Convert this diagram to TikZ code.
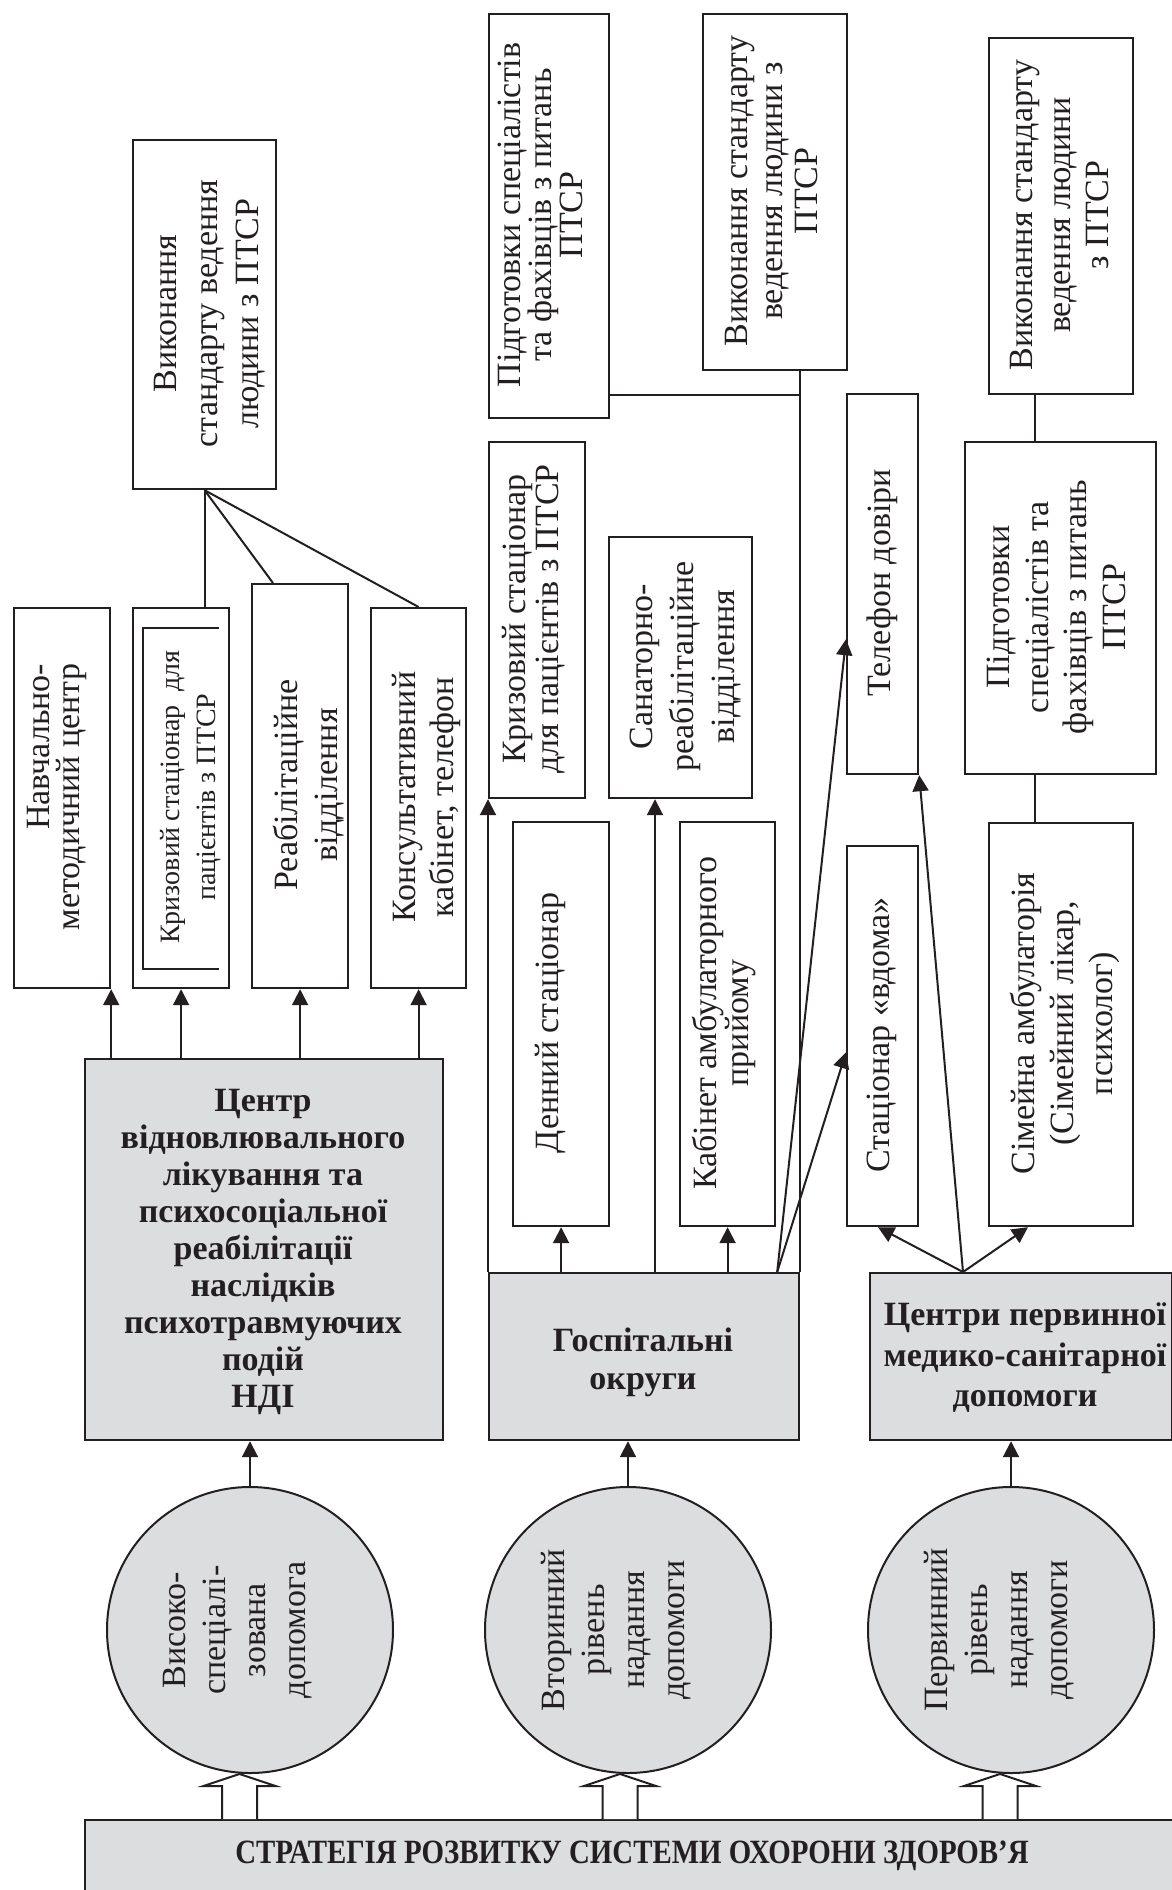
\documentclass[tikz,border=0pt]{standalone}
\usepackage{fontspec}
\setmainfont{Liberation Serif}
\usepackage{graphicx}
\usetikzlibrary{arrows.meta,calc}
\definecolor{ink}{RGB}{35,31,32}
\definecolor{boxgray}{RGB}{220,221,223}
\tikzset{
  box/.style={draw, line width=2.2pt, inner sep=0pt, anchor=north west},
  graybox/.style={box, fill=boxgray},
  link/.style={line width=2pt},
  arr/.style={link, -{Triangle[length=16pt,width=16pt]}},
  hollow/.style={line width=2pt, fill=white, line join=miter},
  vtxt/.style={rotate=90, anchor=north, inner sep=0pt, align=center,
    font=\fontsize{34}{#1}\selectfont},
  vtxt/.default=40,
  htxt/.style={anchor=north, inner sep=0pt, align=center,
    font=\bfseries\fontsize{34}{#1}\selectfont},
  circ/.style={circle, draw, line width=2pt, fill=boxgray,
    minimum size=286pt, inner sep=0pt},
}
\begin{document}
\begin{tikzpicture}[x=1pt,y=-1pt,color=ink]
\useasboundingbox (0,0) rectangle (1172,1890);
\fill[white] (0,0) rectangle (1172,1890);
\clip (0,0) rectangle (1172,1890);

% ---------- highly specialised care (left column)
\node[box, minimum width=143pt, minimum height=349pt] (V1) at (132,139) {};
\node[box, minimum width=96pt, minimum height=380pt] (N1) at (13,607) {};
\node[box, minimum width=96pt, minimum height=380pt] (K1) at (132,607) {};
\node[box, minimum width=96pt, minimum height=404pt] (R1) at (251,583) {};
\node[box, minimum width=95pt, minimum height=380pt] (C1) at (370,607) {};
\node[graybox, minimum width=358pt, minimum height=381pt] (Z1) at (84,1058) {};

\node[vtxt=41] at (154,313.5) {Виконання\\стандарту ведення\\людини з ПТСР};
\node[vtxt=30, align=right] at (27,797) {Навчально-\\методичний центр};
\draw[line width=2pt] ($(K1.north east)+(-11,21)$) -- ($(K1.north west)+(11,21)$)
  -- ($(K1.south west)+(11,-20)$) -- ($(K1.south east)+(-11,-20)$);
\node[vtxt, font=\fontsize{28}{36}\selectfont] at (160,797) {Кризовий стаціонар~ для\\пацієнтів з ПТСР};
\node[vtxt=40] at (273,785) {Реабілітаційне\\відділення};
\node[vtxt=38] at (392,797) {Консультативний\\кабінет, телефон};
\node[htxt=37] at (263,1089.5) {Центр\\відновлювального\\лікування та\\психосоціальної\\реабілітації\\наслідків\\психотравмуючих\\подій\\НДІ};

\draw[link] (V1.south) -- (V1.south |- K1.north);
\draw[link] (V1.south) -- ($(R1.north west)+(22,0)$);
\draw[link] (V1.south) -- (C1.north);
\draw[arr] (N1.south east |- Z1.north) -- (N1.south east);
\draw[arr] (K1.south |- Z1.north) -- (K1.south);
\draw[arr] (R1.south |- Z1.north) -- (R1.south);
\draw[arr] (C1.south |- Z1.north) -- (C1.south);

% ---------- secondary level (middle column)
\node[box, minimum width=120pt, minimum height=404pt] (P2) at (488,13) {};
\node[box, minimum width=144pt, minimum height=356pt] (V2) at (702,13) {};
\node[box, minimum width=96pt, minimum height=356pt] (K2) at (488,441) {};
\node[box, minimum width=143pt, minimum height=261pt] (S2) at (608,536) {};
\node[box, minimum width=96pt, minimum height=404pt] (D2) at (512,821) {};
\node[box, minimum width=95pt, minimum height=404pt] (KA2) at (679,821) {};
\node[box, minimum width=71pt, minimum height=380pt] (T2) at (846,393) {};
\node[box, minimum width=71pt, minimum height=380pt] (SV) at (846,845) {};
\node[graybox, minimum width=310pt, minimum height=167pt] (G2) at (488,1272) {};

\node[vtxt=26] at (498,215) {Підготовки спеціалістів\\та фахівців з питань\\ПТСР};
\node[vtxt=35] at (725,191) {Виконання стандарту\\ведення людини з\\ПТСР};
\node[vtxt=33] at (502,619) {Кризовий стаціонар\\для пацієнтів з ПТСР};
\node[vtxt=41] at (630,666.5) {Санаторно-\\реабілітаційне\\відділення};
\node[vtxt] at (535,1023) {Денний стаціонар};
\node[vtxt=32] at (692,1023) {Кабінет амбулаторного\\прийому};
\node[vtxt] at (867,583) {Телефон довіри};
\node[vtxt] at (867,1035) {Стаціонар «вдома»};
\node[htxt=38] at (643,1328) {Госпітальні\\округи};

\draw[arr] (G2.north west) -- (K2.south west);
\draw[arr] (D2.south |- G2.north) -- (D2.south);
\coordinate (s2a) at ($(S2.south west)+(47,0)$);
\draw[arr] (s2a |- G2.north) -- (s2a);
\draw[arr] (KA2.south |- G2.north) -- (KA2.south);
\coordinate (gA) at ($(G2.north east)+(-23,0)$);
\coordinate (t2in) at ($(T2.south west)+(0,-136)$);
\coordinate (svin) at ($(SV.south west)+(0,-175)$);
\draw[arr] (gA) -- (t2in);
\draw[arr] (gA) -- (svin);
\draw[link] (G2.north east) -- (G2.north east |- V2.south);
\coordinate (p2r) at ($(P2.south east)+(0,-24)$);
\draw[link] (p2r) -- (p2r -| G2.north east);

% ---------- primary level (right column)
\node[box, minimum width=144pt, minimum height=356pt] (V3) at (988,37) {};
\node[box, minimum width=191pt, minimum height=332pt] (P3) at (964,441) {};
\node[box, minimum width=144pt, minimum height=403pt] (SA) at (988,822) {};
\node[graybox, minimum width=302pt, minimum height=167pt] (CP) at (869,1272) {};

\node[vtxt=38] at (1010,215) {Виконання стандарту\\ведення людини\\з ПТСР};
\node[vtxt=38.5] at (987,607) {Підготовки\\спеціалістів та\\фахівців з питань\\ПТСР};
\node[vtxt=39] at (1010,1023.5) {Сімейна амбулаторія\\(Сімейний лікар,\\психолог)};
\node[htxt=40.5] at (1025,1303) {Центри первинної\\медико-санітарної\\допомоги};

\coordinate (cA) at ($(CP.north west)+(94,0)$);
\draw[arr] (cA) -- ($(SV.south west)+(32,0)$);
\draw[arr] (cA) -- ($(SA.south west)+(40,0)$);
\draw[arr] (cA) -- (T2.south east);
\coordinate (v3a) at ($(V3.south west)+(47,0)$);
\draw[link] (v3a) -- (v3a |- P3.north);
\draw[link] (v3a |- P3.south) -- (v3a |- SA.north);

% ---------- levels of care and the strategy strip
\node[graybox, minimum width=1200pt, minimum height=100pt] (S) at (84,1819) {};
\node[anchor=base, inner sep=0pt, font=\bfseries\fontsize{34}{40}\selectfont]
  at (632,1863) {\scalebox{0.85}[1]{СТРАТЕГІЯ РОЗВИТКУ СИСТЕМИ ОХОРОНИ ЗДОРОВ'Я}};

\node[circ] (O1) at (250,1630) {};
\node[circ] (O2) at (628,1630) {};
\node[circ] (O3) at (1011,1630) {};
\node[vtxt=40] at (163,1630) {Високо-\\спеціалі-\\зована\\допомога};
\node[vtxt=40] at (541,1630) {Вторинний\\рівень\\надання\\допомоги};
\node[vtxt=40] at (924,1630) {Первинний\\рівень\\надання\\допомоги};

\draw[arr] (O1.north) -- (O1.north |- Z1.south);
\draw[arr] (O2.north) -- (O2.north |- G2.south);
\draw[arr] (O3.north) -- (O3.north |- CP.south);

% hollow block arrows from the strip up to each level
\foreach \o/\dx in {O1/-10.5,O2/-8,O3/-11} {
  \coordinate (tip) at ($(\o.south)+(\dx,0)$);
  \draw[hollow] ($(tip |- S.north)+(-17.5,0)$) -- ($(tip)+(-17.5,12)$)
    -- ($(tip)+(-36,12)$) -- (tip) -- ($(tip)+(36,12)$)
    -- ($(tip)+(17.5,12)$) -- ($(tip |- S.north)+(17.5,0)$);
}
\end{tikzpicture}
\end{document}
